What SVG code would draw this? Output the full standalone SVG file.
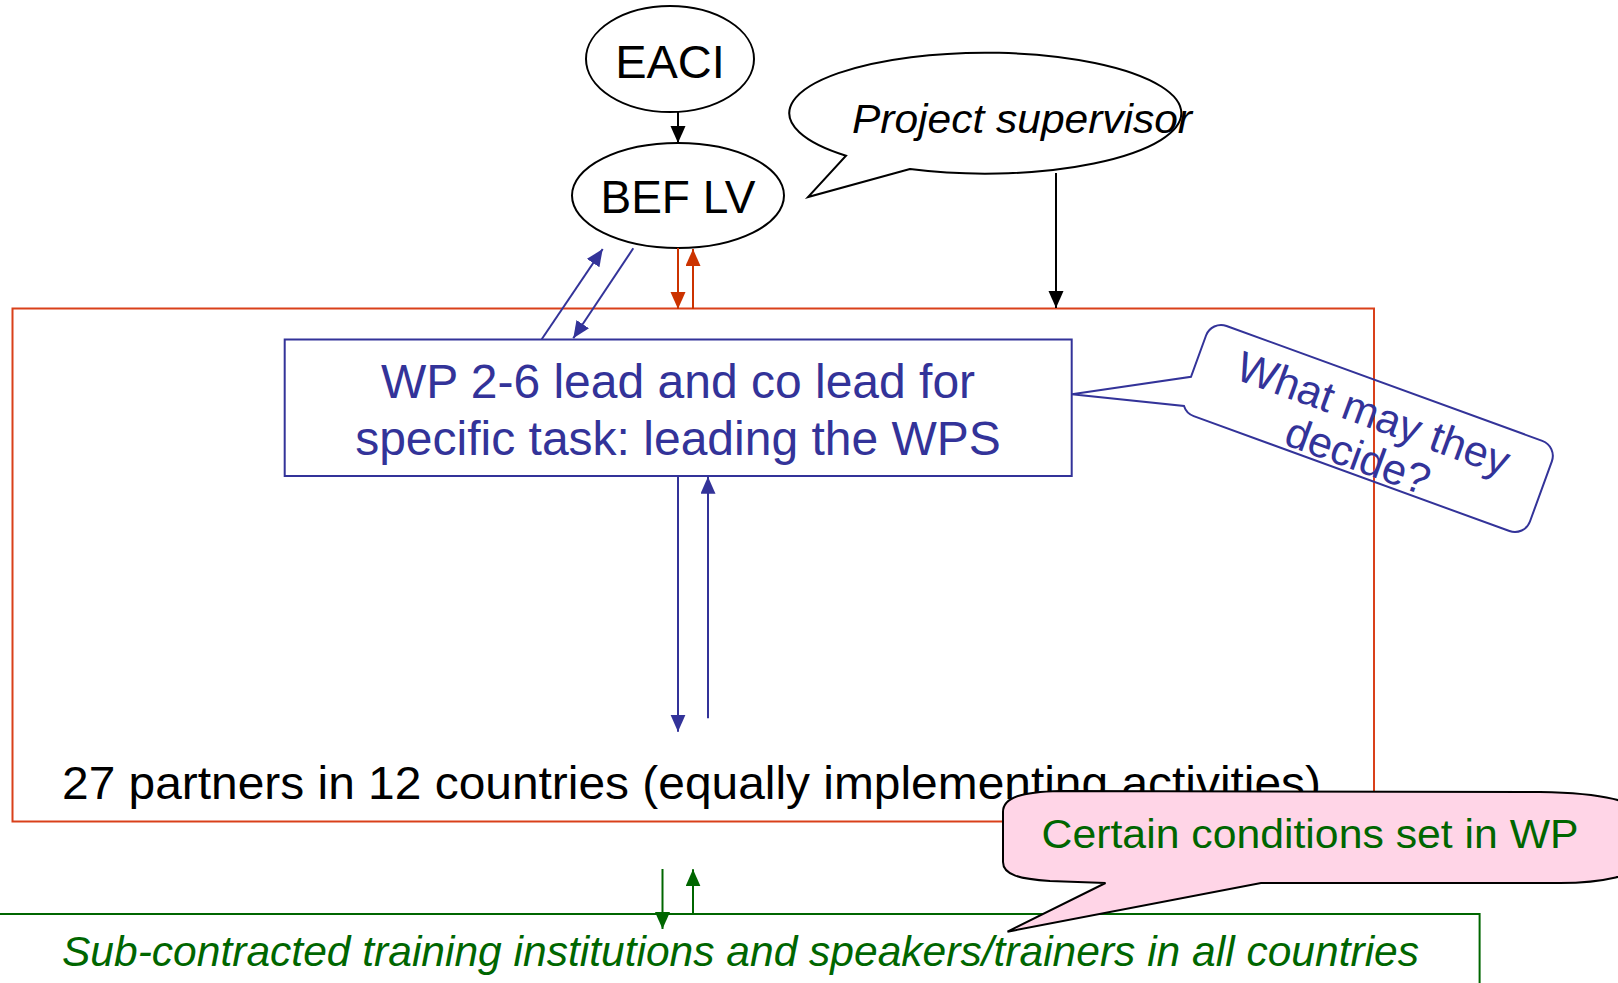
<svg xmlns="http://www.w3.org/2000/svg" width="1618" height="983" viewBox="0 0 1618 983">
<style>
text{font-family:"Liberation Sans",Arial,sans-serif}
.blk{fill:#000}
.blu{fill:#333399}
.grn{fill:#006600}
.it{font-style:italic}
.ln{fill:none;stroke-width:2}
</style>
<defs>
<marker id="ahK" markerUnits="userSpaceOnUse" markerWidth="17" markerHeight="16" refX="17" refY="7.5" orient="auto"><path d="M0,0 L17,7.5 L0,15 Z" fill="#000"/></marker>
<marker id="ahR" markerUnits="userSpaceOnUse" markerWidth="17" markerHeight="16" refX="17" refY="7.5" orient="auto"><path d="M0,0 L17,7.5 L0,15 Z" fill="#CC3300"/></marker>
<marker id="ahB" markerUnits="userSpaceOnUse" markerWidth="17" markerHeight="16" refX="17" refY="7.5" orient="auto"><path d="M0,0 L17,7.5 L0,15 Z" fill="#333399"/></marker>
<marker id="ahG" markerUnits="userSpaceOnUse" markerWidth="17" markerHeight="16" refX="17" refY="7.5" orient="auto"><path d="M0,0 L17,7.5 L0,15 Z" fill="#006600"/></marker>
</defs>
<rect width="1618" height="983" fill="#fff"/>

<g id="partners">
<rect x="12.5" y="308.5" width="1361.5" height="513" fill="none" stroke="#D9401A" stroke-width="2"/>
<text x="62" y="799" font-size="46" class="blk" textLength="1259" lengthAdjust="spacingAndGlyphs">27 partners in 12 countries (equally implementing activities)</text>
</g>

<g id="eaci">
<ellipse cx="670" cy="59" rx="84" ry="53" fill="#fff" stroke="#000" stroke-width="2"/>
<text x="670" y="78" font-size="47" text-anchor="middle" class="blk">EACI</text>
</g>

<g id="bef-lv">
<ellipse cx="678" cy="195.5" rx="106" ry="52.5" fill="#fff" stroke="#000" stroke-width="2"/>
<text x="678" y="213" font-size="46" text-anchor="middle" class="blk">BEF LV</text>
</g>

<g id="project-supervisor">
<path d="M910,169 L808,197 L846,155.7 A196 60.5 0 1 1 910,169 Z" fill="#fff" stroke="#000" stroke-width="2"/>
<text x="852" y="133" font-size="40" class="blk it" textLength="340" lengthAdjust="spacingAndGlyphs">Project supervisor</text>
</g>

<g id="wp-lead">
<rect x="284.7" y="339.5" width="787" height="136.5" fill="#fff" stroke="#333399" stroke-width="2"/>
<text x="678" y="398" font-size="48" text-anchor="middle" class="blu">WP 2-6 lead and co lead for</text>
<text x="678" y="455" font-size="48" text-anchor="middle" class="blu">specific task: leading the WPS</text>
</g>

<g id="what-may-they-decide" transform="translate(1368,428.5) rotate(20)">
<path d="M-168,-48 L168,-48 A16 16 0 0 1 184,-32 L184,32 A16 16 0 0 1 168,48 L-168,48 A16 16 0 0 1 -180.6,41.8 L-290,69.2 L-184,12 L-184,-32 A16 16 0 0 1 -168,-48 Z" fill="none" stroke="#333399" stroke-width="2"/>
<text x="0" y="-1" font-size="43" text-anchor="middle" class="blu">What may they</text>
<text x="0" y="44" font-size="43" text-anchor="middle" class="blu">decide?</text>
</g>

<g id="subcontracted">
<rect x="-5" y="914" width="1484.6" height="100" fill="none" stroke="#006600" stroke-width="2"/>
<text x="62" y="966" font-size="42.5" class="grn it" textLength="1357" lengthAdjust="spacingAndGlyphs">Sub-contracted training institutions and speakers/trainers in all countries</text>
</g>

<g id="connectors">
<line x1="678" y1="112" x2="678" y2="143" class="ln" stroke="#000" marker-end="url(#ahK)"/>
<line x1="1056" y1="173" x2="1056" y2="308" class="ln" stroke="#000" marker-end="url(#ahK)"/>
<line x1="678" y1="248" x2="678" y2="309" class="ln" stroke="#CC3300" marker-end="url(#ahR)"/>
<line x1="693" y1="309" x2="693" y2="249" class="ln" stroke="#CC3300" marker-end="url(#ahR)"/>
<line x1="541.7" y1="339.3" x2="602.7" y2="249" class="ln" stroke="#333399" marker-end="url(#ahB)"/>
<line x1="633.3" y1="248.3" x2="573.3" y2="338.3" class="ln" stroke="#333399" marker-end="url(#ahB)"/>
<line x1="678" y1="476" x2="678" y2="731.7" class="ln" stroke="#333399" marker-end="url(#ahB)"/>
<line x1="708" y1="718.3" x2="708" y2="476.7" class="ln" stroke="#333399" marker-end="url(#ahB)"/>
<line x1="662.5" y1="869" x2="662.5" y2="929" class="ln" stroke="#006600" marker-end="url(#ahG)"/>
<line x1="693" y1="914" x2="693" y2="869.3" class="ln" stroke="#006600" marker-end="url(#ahG)"/>
</g>

<g id="certain-conditions">
<path d="M1003,812 C1003,797 1022,792 1060,791 L1540,792 C1600,793 1640,800 1645,820 L1645,860 C1640,876 1600,883 1560,883 L1261,883 L1007.5,931.7 L1105.5,883 L1050,881 C1020,879 1003,875 1003,862 Z" fill="#FFD5E7" stroke="#000" stroke-width="2"/>
<text x="1041.6" y="848" font-size="40" class="grn" textLength="537" lengthAdjust="spacingAndGlyphs">Certain conditions set in WP</text>
</g>
</svg>
